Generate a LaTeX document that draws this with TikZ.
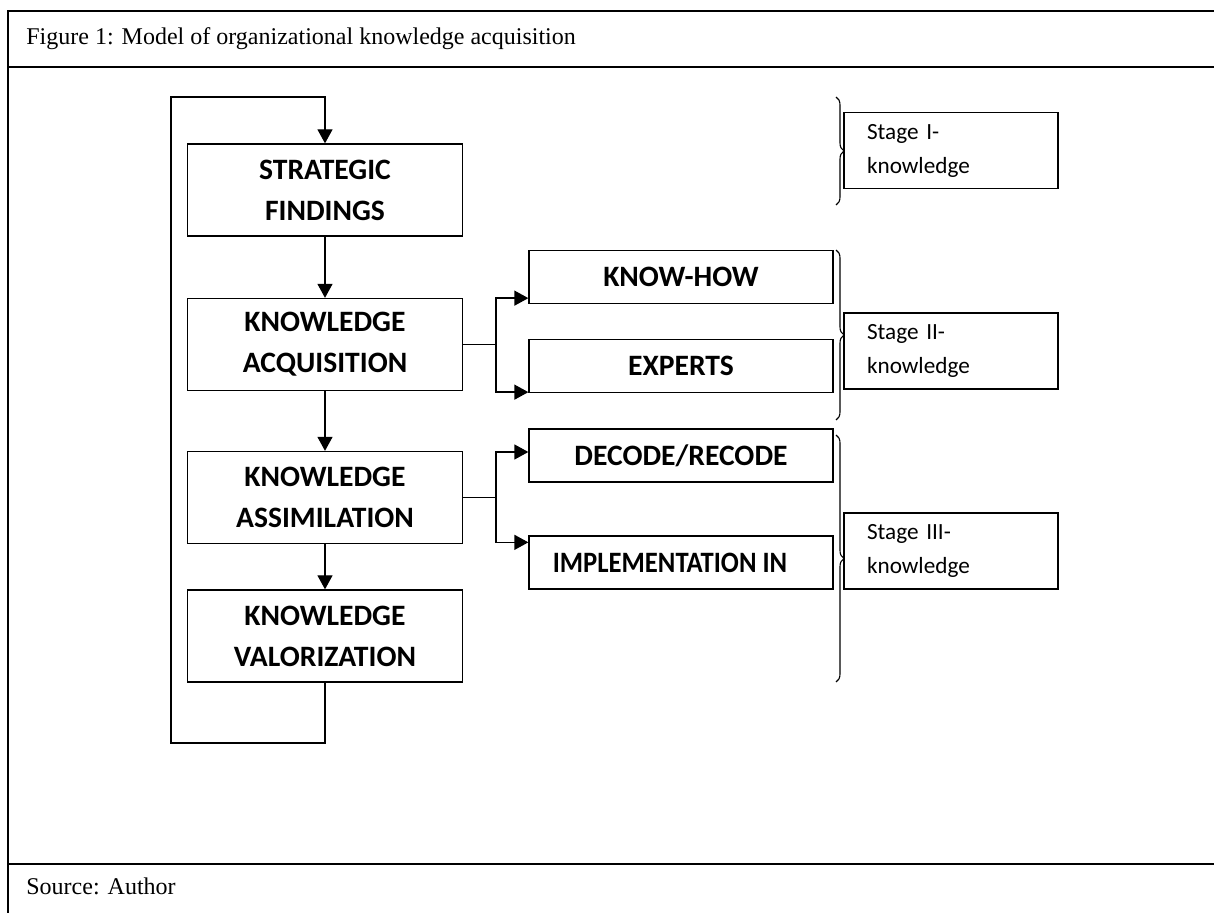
\documentclass[tikz,border=0pt]{standalone}
\usepackage{fontspec}
\setmainfont{Liberation Serif}
\newfontfamily\calfont{Carlito}
\usepackage{tikz}
\usetikzlibrary{arrows.meta,positioning,decorations.pathreplacing}

\begin{document}
\begin{tikzpicture}[
  x=0.5pt,y=-0.5pt,
  frame/.style={line width=1.1pt},
  mainbox/.style={draw,line width=0.65pt,minimum width=137.5pt,minimum height=46pt,align=center,
    font=\calfont\bfseries\fontsize{14.8}{20.5}\selectfont},
  subbox/.style={draw,line width=0.65pt,minimum width=152pt,minimum height=26.5pt,
    font=\calfont\bfseries\fontsize{14.8}{17}\selectfont},
  stagebox/.style={draw,line width=0.65pt,minimum width=107pt,minimum height=38pt,text width=84pt,
    inner xsep=11.5pt,align=left,font=\calfont\fontsize{11.6}{17}\selectfont},
  ln/.style={line width=0.65pt},
  ar/.style={ln,-{Triangle[length=7pt,width=7.5pt]}},
  brc/.style={line width=0.55pt,decorate,decoration={brace,amplitude=4pt}}
]
\useasboundingbox (0,0) rectangle (1214,913);

% frame of the figure
\draw[frame] (1214,11) -- (8,11) -- (8,913);
\draw[frame] (8,67) -- (1214,67);
\draw[frame] (8,864) -- (1214,864);
\node[anchor=west,inner sep=0pt,font=\fontsize{12}{14}\selectfont] (title) at (26,39)
  {Figure 1: Model of organizational knowledge acquisition};
\node[anchor=west,inner sep=0pt,font=\fontsize{12}{14}\selectfont] (src) at (26,886) {Source: Author};

% main column
\node[mainbox] (sf) at (325,190) {STRATEGIC\\FINDINGS};
\node[mainbox] (ka) at (325,344.5) {KNOWLEDGE\\ACQUISITION};
\node[mainbox] (kas) at (325,497.5) {KNOWLEDGE\\ASSIMILATION};
\node[mainbox] (kv) at (325,636) {KNOWLEDGE\\VALORIZATION};

% side boxes
\node[subbox] (kh) at (681,277) {KNOW-HOW};
\node[subbox] (ex) at (681,366) {EXPERTS};
\node[subbox] (dr) at (681,455.5) {DECODE/RECODE};
\node[subbox] (im) at (681,562.5) {\hspace*{-11pt}\scalebox{0.9}[1]{IMPLEMENTATION IN}};

% stages
\node[stagebox] (s1) at (951,150.5) {Stage I-\\knowledge};
\node[stagebox] (s2) at (951,351) {Stage II-\\knowledge};
\node[stagebox] (s3) at (951,551) {Stage III-\\knowledge};

% flow
\draw[ar] (sf) -- (ka);
\draw[ar] (ka) -- (kas);
\draw[ar] (kas) -- (kv);
\coordinate (lp) at (171,743);
\draw[ar] (kv.south) |- (lp) |- (325,97) -- (sf.north);

% branches
\coordinate (b1) at (496,344.5);
\draw[ln] (ka.east) -- (b1);
\draw[ar] (b1) |- ([yshift=3pt]kh.south west);
\draw[ar] (b1) |- ([yshift=0.5pt]ex.south west);
\coordinate (b2) at (496,497.5);
\draw[ln] (kas.east) -- (b2);
\draw[ar] (b2) |- ([yshift=1.75pt]dr.west);
\draw[ar] (b2) |- ([yshift=-3.5pt]im.north west);

% braces
\draw[brc] (836,97) -- (836,205);
\draw[brc] (836,250) -- (836,420);
\draw[brc] (836,435) -- (836,682);
\end{tikzpicture}
\end{document}
